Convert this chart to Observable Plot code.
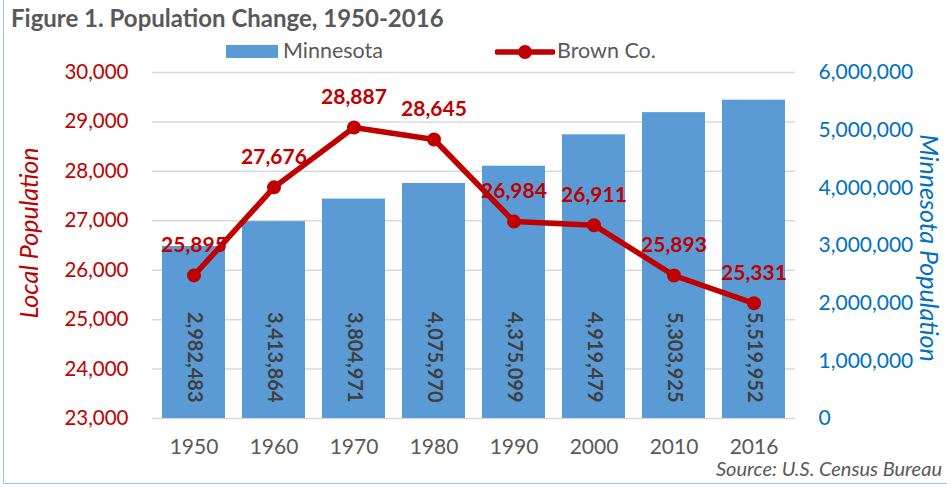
<!DOCTYPE html>
<html>
<head>
<meta charset="utf-8">
<script src="https://cdn.jsdelivr.net/npm/d3@7"></script>
<script src="https://cdn.jsdelivr.net/npm/@observablehq/plot@0.6"></script>
<style>
  body { margin: 0; background: #fff; }
  #wrap { position: relative; width: 947px; height: 487px; overflow: hidden; font-family: Lato, "Open Sans", sans-serif; }
  #frame { position: absolute; left: 3px; top: 0; width: 950px; height: 484px; border-left: 1.5px solid #9DC3E6; border-bottom: 1.5px solid #9DC3E6; box-sizing: border-box; }
  #chart { position: absolute; left: 0; top: 0; }
  .abs { position: absolute; white-space: nowrap; }
  #title { left: 11px; top: 3px; font-size: 24px; font-weight: bold; color: #595959; }
  .lg { font-size: 21.5px; color: #595959; line-height: 1; }
  .axlab { font-size: 25px; font-style: italic; line-height: 1.2; }
  #source { left: 716px; top: 456px; font-size: 20px; font-style: italic; color: #595959; }
</style>
</head>
<body>
<div id="wrap">
  <div id="frame"></div>
  <div id="chart"></div>
  <div id="title" class="abs">Figure 1. Population Change, 1950-2016</div>
  <div class="abs" style="left:226px;top:45px;width:52px;height:13px;background:#5B9BD5"></div>
  <div class="abs lg" style="left:283px;top:40px">Minnesota</div>
  <svg class="abs" style="left:495px;top:40px" width="60" height="24">
    <line x1="2" y1="12" x2="58" y2="12" stroke="#C00000" stroke-width="5.5" stroke-linecap="round"/>
    <circle cx="30" cy="12" r="7" fill="#C00000"/>
  </svg>
  <div class="abs lg" style="left:557px;top:40px">Brown Co.</div>
  <div class="abs axlab" style="left:28px;top:233px;color:#C00000;transform:translate(-50%,-50%) rotate(-90deg)">Local Population</div>
  <div class="abs axlab" style="left:930px;top:248px;color:#0070C0;transform:translate(-50%,-50%) rotate(90deg)">Minnesota Population</div>
  <div id="source" class="abs">Source: U.S. Census Bureau</div>
</div>
<script>
const years = ["1950", "1960", "1970", "1980", "1990", "2000", "2010", "2016"];
const brownCo = [25895, 27676, 28887, 28645, 26984, 26911, 25893, 25331];
const minnesota = [2982483, 3413864, 3804971, 4075970, 4375099, 4919479, 5303925, 5519952];
const localTicks = [23000, 24000, 25000, 26000, 27000, 28000, 29000, 30000];
const stateTicks = [0, 1000000, 2000000, 3000000, 4000000, 5000000, 6000000];

const localMin = 23000, localMax = 30000, stateMax = 6000000;
const toLocal = v => localMin + v * (localMax - localMin) / stateMax;
const fromLocal = y => Math.round((y - localMin) * stateMax / (localMax - localMin));

const data = years.map((year, i) => ({year, bc: brownCo[i], mn: minnesota[i]}));
const fmt = d3.format(",");

const chart = Plot.plot({
  width: 947,
  height: 487,
  marginTop: 72,
  marginBottom: 69,
  marginLeft: 152,
  marginRight: 152,
  style: {fontFamily: "Lato, 'Open Sans', sans-serif", fontSize: "21px", background: "transparent"},
  x: {domain: years, paddingInner: 0.216, paddingOuter: 0.108},
  y: {domain: [localMin, localMax]},
  marks: [
    Plot.gridY(localTicks, {stroke: "#d9d9d9", strokeOpacity: 1, strokeWidth: 1.5}),
    Plot.barY(data, {x: "year", y1: localMin, y2: d => toLocal(d.mn), fill: "#5B9BD5"}),
    Plot.text(data, {x: "year", y: localMin, text: d => fmt(d.mn), rotate: 90, textAnchor: "end", dy: -16,
      fill: "#404040", fontWeight: "bold", fontSize: 20}),
    Plot.line(data, {x: "year", y: "bc", stroke: "#C00000", strokeWidth: 5.5, strokeLinejoin: "round"}),
    Plot.dot(data, {x: "year", y: "bc", r: 7, fill: "#C00000"}),
    Plot.text(data, {x: "year", y: "bc", text: d => fmt(d.bc), dy: -30, fill: "#C00000", fontWeight: "bold", fontSize: 21}),
    Plot.axisY(localTicks, {anchor: "left", tickSize: 0, tickPadding: 24, color: "#C00000", tickFormat: fmt, label: null, fontSize: 20.5}),
    Plot.axisY(stateTicks.map(toLocal), {anchor: "right", tickSize: 0, tickPadding: 23, color: "#0070C0",
      tickFormat: d => fmt(fromLocal(d)), label: null, fontSize: 21}),
    Plot.axisX({tickSize: 0, tickPadding: 21, color: "#595959", label: null, fontSize: 21})
  ]
});
document.getElementById("chart").appendChild(chart);
</script>
</body>
</html>
